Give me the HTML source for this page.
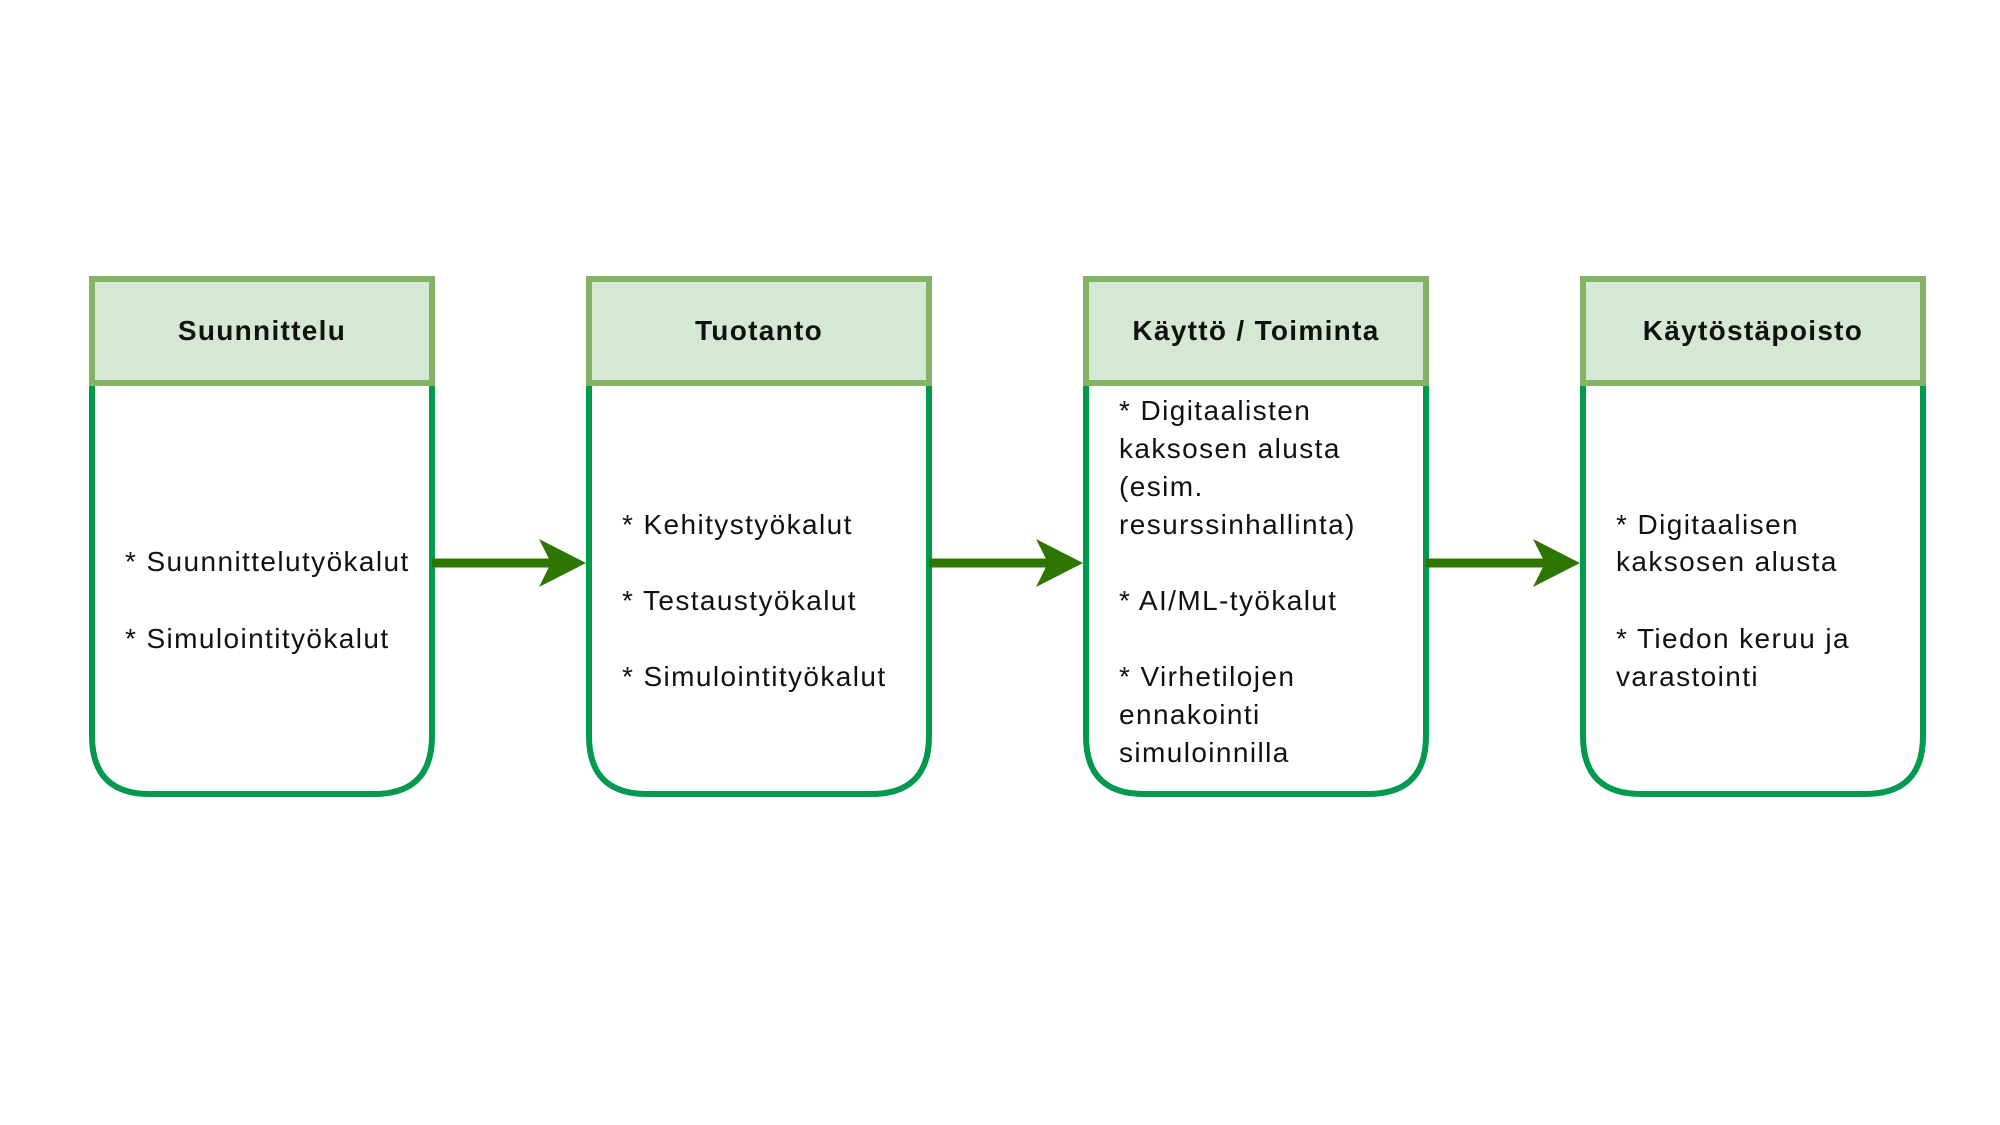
<!DOCTYPE html>
<html><head><meta charset="utf-8"><style>
html,body{margin:0;padding:0;background:#fff;}
svg{display:block;}
text{font-family:"Liberation Sans",Arial,sans-serif;fill:#111;}
.h{font-weight:bold;font-size:28px;letter-spacing:1.3px;text-anchor:middle;}
.b{font-size:28px;letter-spacing:1.4px;}
</style></head><body>
<svg width="2000" height="1125" viewBox="0 0 2000 1125" xmlns="http://www.w3.org/2000/svg">
<defs>
<g id="box">
<path d="M0 383 L0 736 Q0 794 58 794 L282 794 Q340 794 340 736 L340 383" fill="#fff" stroke="#00994d" stroke-width="6"/>
<rect x="0" y="279" width="340" height="104" fill="#d5e8d4" stroke="#82b366" stroke-width="6"/>
</g>
</defs>
<use href="#box" x="92" y="0"/>
<use href="#box" x="589" y="0"/>
<use href="#box" x="1086" y="0"/>
<use href="#box" x="1583" y="0"/>

<g stroke="#2d7600" stroke-width="9">
<line x1="432" y1="563" x2="552" y2="563"/>
<line x1="929" y1="563" x2="1049" y2="563"/>
<line x1="1426" y1="563" x2="1546" y2="563"/>
</g>
<g fill="#2d7600">
<path d="M586 563 L539 539 L551 563 L539 587 Z"/>
<path d="M1083 563 L1036 539 L1048 563 L1036 587 Z"/>
<path d="M1580 563 L1533 539 L1545 563 L1533 587 Z"/>
</g>

<text class="h" x="262" y="340">Suunnittelu</text>
<text class="h" x="759" y="340">Tuotanto</text>
<text class="h" x="1256" y="340">Käyttö / Toiminta</text>
<text class="h" x="1753" y="340">Käytöstäpoisto</text>

<text class="b" x="125" y="571">* Suunnittelutyökalut</text>
<text class="b" x="125" y="648">* Simulointityökalut</text>

<text class="b" x="622" y="534">* Kehitystyökalut</text>
<text class="b" x="622" y="610">* Testaustyökalut</text>
<text class="b" x="622" y="686">* Simulointityökalut</text>

<text class="b" x="1119" y="420">* Digitaalisten</text>
<text class="b" x="1119" y="458">kaksosen alusta</text>
<text class="b" x="1119" y="496">(esim.</text>
<text class="b" x="1119" y="534">resurssinhallinta)</text>
<text class="b" x="1119" y="610">* AI/ML-työkalut</text>
<text class="b" x="1119" y="686">* Virhetilojen</text>
<text class="b" x="1119" y="724">ennakointi</text>
<text class="b" x="1119" y="762">simuloinnilla</text>

<text class="b" x="1616" y="534">* Digitaalisen</text>
<text class="b" x="1616" y="571">kaksosen alusta</text>
<text class="b" x="1616" y="648">* Tiedon keruu ja</text>
<text class="b" x="1616" y="686">varastointi</text>
</svg>
</body></html>
